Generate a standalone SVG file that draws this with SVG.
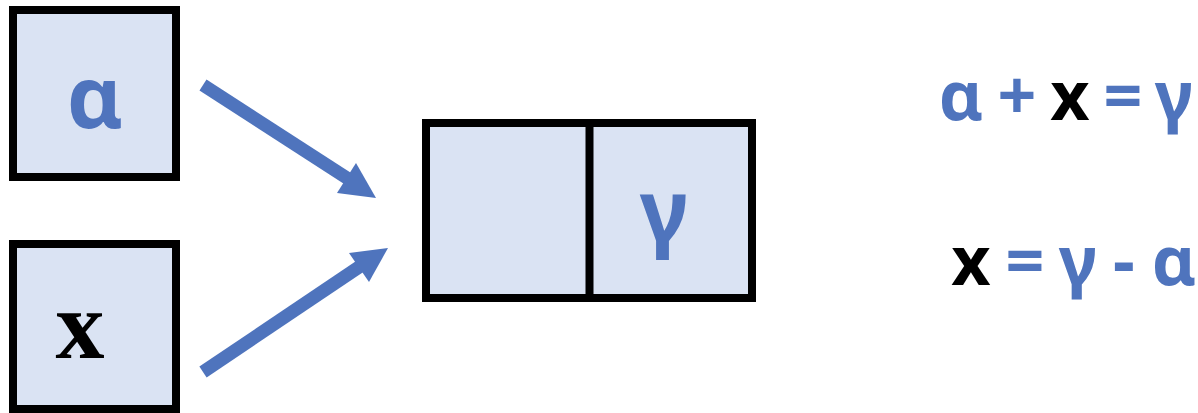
<svg xmlns="http://www.w3.org/2000/svg" width="1198" height="413" viewBox="0 0 1198 413">
<style>
.box{fill:#DAE3F3;stroke:#000;stroke-width:8}
.greek{font-family:"Noto Sans","Open Sans",sans-serif;font-weight:bold;fill:#4F74BD}
.eq{font-family:"Noto Sans","Open Sans",sans-serif;font-weight:bold;font-size:68px;fill:#4F74BD}
.blk{fill:#000}
.shaft{stroke:#4F74BD;stroke-width:13;fill:none}
.head{fill:#4F74BD}
</style>
<rect width="1198" height="413" fill="#fff"/>
<g id="alpha-box">
<rect class="box" x="13" y="10" width="163" height="167"/>
<text class="greek" x="95" y="128" font-size="86" text-anchor="middle">α</text>
</g>
<g id="x-box">
<rect class="box" x="13" y="244" width="163" height="165"/>
<text x="80" y="358" font-family="Liberation Serif,serif" font-weight="bold" font-size="98" text-anchor="middle">x</text>
</g>
<g id="result-box">
<rect class="box" x="426" y="123" width="326" height="175"/>
<line x1="589.5" y1="123" x2="589.5" y2="298" stroke="#000" stroke-width="8"/>
<text class="greek" x="664" y="242" font-size="86" text-anchor="middle">γ</text>
</g>
<g id="connectors">
<line class="shaft" x1="203" y1="85" x2="350" y2="180"/>
<polygon class="head" points="376,198 337,193 356,163"/>
<line class="shaft" x1="203" y1="372" x2="362" y2="265"/>
<polygon class="head" points="388,248 349,253 369,282"/>
</g>
<g id="equations">
<text class="eq" y="120" text-anchor="middle"><tspan x="961">α</tspan><tspan x="1017">+</tspan><tspan x="1070" class="blk">x</tspan><tspan x="1123">=</tspan><tspan x="1174">γ</tspan></text>
<text class="eq" y="285" text-anchor="middle"><tspan x="971" class="blk">x</tspan><tspan x="1025">=</tspan><tspan x="1078">γ</tspan><tspan x="1124">-</tspan><tspan x="1174">α</tspan></text>
</g>
</svg>
